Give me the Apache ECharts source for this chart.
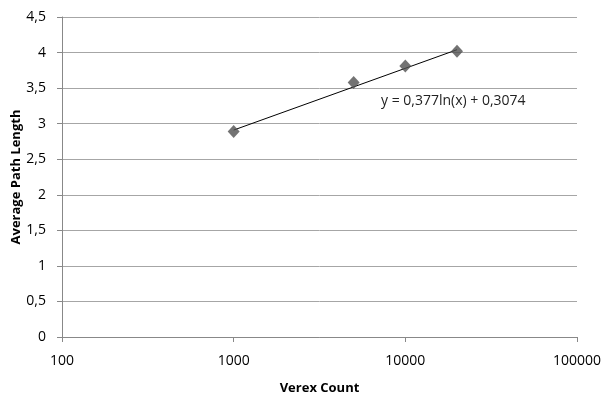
<!DOCTYPE html>
<html>
<head>
<meta charset="utf-8">
<script src="https://cdn.jsdelivr.net/npm/echarts@6/dist/echarts.min.js"></script>
<style>
  html, body { margin: 0; padding: 0; background: #fff; }
  #main { width: 603px; height: 394px; }
</style>
</head>
<body>
<div id="main"></div>
<script>
var myChart = echarts.init(document.getElementById('main'));

// measured points
var vertexCounts = [1000, 5000, 10000, 20000];
var pathLengths = [2.89, 3.58, 3.81, 4.02];

// trendline ends
var trendX = [1000, 20000];
var trendY = [2.91, 4.04];

var equationText = 'y = 0,377ln(x) + 0,3074';

var pts = vertexCounts.map(function (v, i) { return [v, pathLengths[i]]; });
var trend = trendX.map(function (v, i) { return [v, trendY[i]]; });

var font = 'Open Sans, Liberation Sans, sans-serif';

var option = {
    animation: false,
    grid: {
        left: 62,
        right: 26,
        top: 17,
        bottom: 57,
        outerBoundsMode: 'none'
    },
    xAxis: {
        type: 'log',
        logBase: 10,
        min: 100,
        max: 100000,
        name: 'Verex Count',
        nameLocation: 'middle',
        nameGap: 45,
        nameMoveOverlap: false,
        nameTextStyle: { fontFamily: font, fontWeight: 'bold', fontSize: 13, color: '#000' },
        axisLine: { lineStyle: { color: '#888' } },
        axisTick: { show: true, length: 5, lineStyle: { color: '#888' } },
        minorTick: { show: false },
        splitLine: { show: false },
        axisLabel: {
            fontFamily: font, fontSize: 14, color: '#000', margin: 17,
            formatter: function (v) { return String(v); }
        }
    },
    yAxis: {
        type: 'value',
        min: 0,
        max: 4.5,
        interval: 0.5,
        name: 'Average Path Length',
        nameLocation: 'middle',
        nameGap: 39,
        nameMoveOverlap: false,
        nameTextStyle: { fontFamily: font, fontWeight: 'bold', fontSize: 13, color: '#000' },
        axisLine: { show: true, lineStyle: { color: '#888' } },
        axisTick: { show: true, length: 5, lineStyle: { color: '#888' } },
        splitLine: { lineStyle: { color: '#a6a6a6' } },
        axisLabel: {
            fontFamily: font, fontSize: 14, color: '#000', margin: 16,
            formatter: function (v) { return String(v).replace('.', ','); }
        }
    },
    series: [
        {
            type: 'line',
            data: trend,
            symbol: 'none',
            lineStyle: { color: '#000', width: 1 },
            z: 3
        },
        {
            type: 'scatter',
            data: pts,
            symbol: 'diamond',
            symbolSize: [12, 13],
            itemStyle: { color: '#505050' },
            z: 4
        }
    ],
    graphic: [{
        type: 'text',
        left: 381,
        top: 94,
        style: { text: equationText, font: '14px ' + font, fill: '#222' }
    }]
};

myChart.setOption(option);
</script>
</body>
</html>
